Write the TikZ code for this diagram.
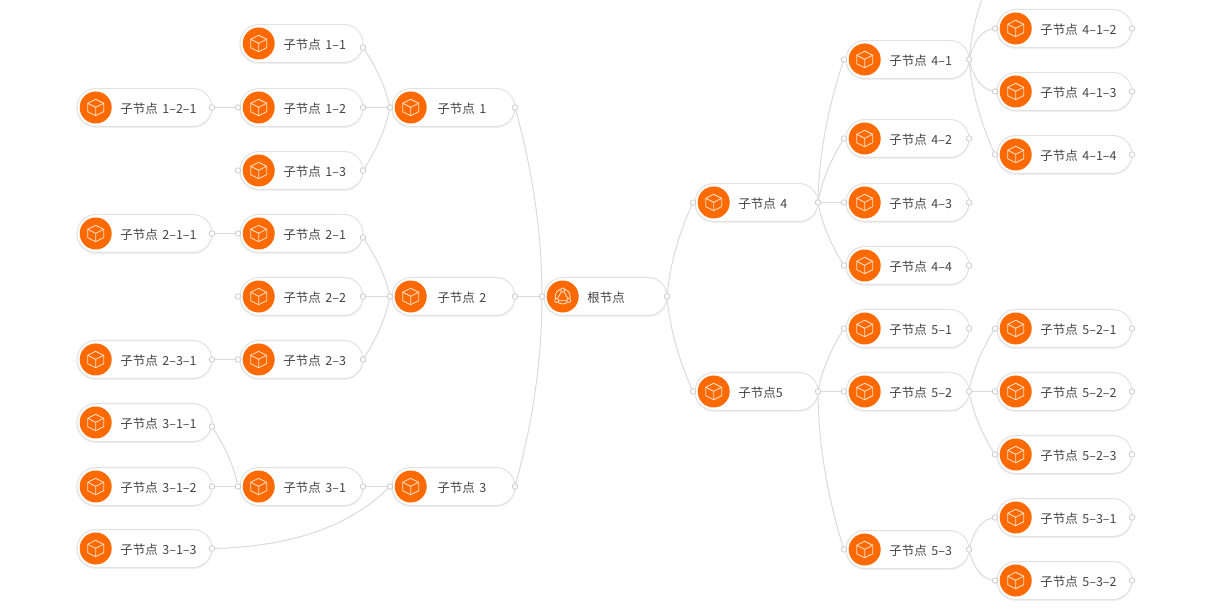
\documentclass[tikz,border=0pt]{standalone}
\usepackage{fontspec}
\setmainfont[WordSpace=1.6]{Noto Sans CJK SC}
\usetikzlibrary{calc,backgrounds}
\definecolor{edgegray}{HTML}{DADADA}
\definecolor{pillgray}{HTML}{E2E2E2}
\definecolor{portgray}{HTML}{CCCCCC}
\definecolor{iconorange}{HTML}{FF6A00}
\definecolor{icontint}{HTML}{FFE3CF}
\definecolor{labelgray}{HTML}{444444}
\tikzset{
  pill/.style={draw=pillgray,line width=1pt,fill=white,rounded corners=19pt,minimum height=38pt,inner sep=0pt,outer sep=0pt,anchor=west,
    preaction={draw=black!6,line width=1.2pt,transform canvas={yshift=-1pt}}},
  wide/.style={minimum width=135pt},
  mid/.style={minimum width=123pt},
  disc/.style={circle,fill=iconorange,minimum size=32pt,inner sep=0pt},
  portdot/.style={circle,draw=portgray,fill=white,line width=.8pt,minimum size=5.5pt,inner sep=0pt,outer sep=0pt},
  label/.style={anchor=west,inner sep=0pt,text=labelgray,font=\fontsize{12.5pt}{14pt}\selectfont},
  edgeline/.style={draw=edgegray,line width=1pt},
  iconline/.style={draw=icontint,line width=.8pt,line join=round},
  cube/.pic={
    \draw[iconline] (0,-8.2) -- (8,-4.2) -- (8,4.2) -- (0,8.2) -- (-8,4.2) -- (-8,-4.2) -- cycle;
    \draw[iconline] (-8,-4.2) -- (0,-.2) -- (8,-4.2) (0,-.2) -- (0,8.2);
  },
  orbit/.pic={
    \draw[iconline] (0,0) circle (7.5);
    \draw[iconline] (0,-7) -- (6.4,4.2) -- (-6.4,4.2) -- cycle;
    \draw[iconline,fill=iconorange] (0,-6.5) circle (2);
    \draw[iconline,fill=iconorange] (6,4) circle (2);
    \draw[iconline,fill=iconorange] (-6,4) circle (2);
  }
}
% \nd[port drop]{name}{left x}{y}{width style}{text}{icon}
\newcommand{\nd}[7][0]{%
  \node[pill,#5] (#2) at (#3,{#4-.5}) {};
  \node[disc] (#2-i) at ($(#2.west)+(18.7,0)$) {};
  \pic at (#2-i) {#7};
  \node[label] (#2-t) at ($(#2.west)+(43.2,.8)$) {#6};
  \node[portdot] (#2-r) at ($(#2.east)+(0,#1)$) {};
}
\newcommand{\lp}[1]{\node[portdot] (#1-l) at ($(#1.west)+(-2,0)$) {};}
% quadratic curve from child port to parent port; flat at the child when shallow, bowed when steep
\newcommand{\lnk}[2]{%
  \draw[edgeline] let \p1=(#1),\p2=(#2),
    \n1={abs(\y2-\y1)/max(abs(\x2-\x1),1)},
    \n2={min(1,0.65+0.055*\n1)},
    \n3={0.04+0.47*max(0,min(1,(\n1-1.2)/0.8))} in
    (\p1) .. controls ({\x1+0.667*\n2*(\x2-\x1)},{\y1+0.667*\n3*(\y2-\y1)})
    and ({\x2+0.667*(\n2-1)*(\x2-\x1)},{\y2+0.667*(\n3-1)*(\y2-\y1)}) .. (\p2);
}
\begin{document}
\begin{tikzpicture}[x=1pt,y=-1pt]
\useasboundingbox (0,0) rectangle (1224,612);
% left side
\nd{a121}{77}{108}{wide}{子节点 1–2–1}{cube}
\nd{a211}{77}{234}{wide}{子节点 2–1–1}{cube}
\nd{a231}{77}{360}{wide}{子节点 2–3–1}{cube}
\nd[4]{a311}{77}{423}{wide}{子节点 3–1–1}{cube}
\nd{a312}{77}{487}{wide}{子节点 3–1–2}{cube}
\nd{a313}{77}{549}{wide}{子节点 3–1–3}{cube}
\nd[4]{b11}{240}{44}{mid}{子节点 1–1}{cube}
\nd{b12}{240}{108}{mid}{子节点 1–2}{cube}\lp{b12}
\nd{b13}{240}{171}{mid}{子节点 1–3}{cube}\lp{b13}
\nd[4]{b21}{240}{234}{mid}{子节点 2–1}{cube}\lp{b21}
\nd{b22}{240}{297}{mid}{子节点 2–2}{cube}\lp{b22}
\nd{b23}{240}{360}{mid}{子节点 2–3}{cube}\lp{b23}
\nd{b31}{240}{487}{mid}{子节点 3–1}{cube}\lp{b31}
\nd{c1}{392}{108}{mid}{\hspace{2pt}子节点 1}{cube}\lp{c1}
\nd{c2}{392}{297}{mid}{\hspace{2pt}子节点 2}{cube}\lp{c2}
\nd{c3}{392}{487}{mid}{\hspace{2pt}子节点 3}{cube}\lp{c3}
% root
\nd{root}{544}{297}{mid}{根节点}{orbit}\lp{root}
% right side
\nd{d4}{695}{203}{mid}{子节点 4}{cube}\lp{d4}
\nd{d5}{695}{392}{mid}{子节点5}{cube}\lp{d5}
\nd{e41}{846}{60}{mid}{子节点 4–1}{cube}\lp{e41}
\nd{e42}{846}{139}{mid}{子节点 4–2}{cube}\lp{e42}
\nd{e43}{846}{203}{mid}{子节点 4–3}{cube}\lp{e43}
\nd{e44}{846}{266}{mid}{子节点 4–4}{cube}\lp{e44}
\nd{e51}{846}{329}{mid}{子节点 5–1}{cube}\lp{e51}
\nd{e52}{846}{392}{mid}{子节点 5–2}{cube}\lp{e52}
\nd{e53}{846}{550}{mid}{子节点 5–3}{cube}\lp{e53}
\nd{f412}{997}{29}{wide}{子节点 4–1–2}{cube}\lp{f412}
\nd{f413}{997}{92}{wide}{子节点 4–1–3}{cube}\lp{f413}
\nd{f414}{997}{155}{wide}{子节点 4–1–4}{cube}\lp{f414}
\nd{f521}{997}{329}{wide}{子节点 5–2–1}{cube}\lp{f521}
\nd{f522}{997}{392}{wide}{子节点 5–2–2}{cube}\lp{f522}
\nd{f523}{997}{455}{wide}{子节点 5–2–3}{cube}\lp{f523}
\nd{f531}{997}{518}{wide}{子节点 5–3–1}{cube}\lp{f531}
\nd{f532}{997}{581}{wide}{子节点 5–3–2}{cube}\lp{f532}
\coordinate (f411-l) at (995,-34);
\begin{scope}[on background layer]
\clip (0,0) rectangle (1224,612);
\lnk{a121-r}{b12-l}
\lnk{a211-r}{b21-l}
\lnk{a231-r}{b23-l}
\lnk{a311-r}{b31-l}
\lnk{a312-r}{b31-l}
\lnk{a313-r}{c3-l}
\lnk{b11-r}{c1-l}
\lnk{b12-r}{c1-l}
\lnk{b13-r}{c1-l}
\lnk{b21-r}{c2-l}
\lnk{b22-r}{c2-l}
\lnk{b23-r}{c2-l}
\lnk{b31-r}{c3-l}
\lnk{c1-r}{root-l}
\lnk{c2-r}{root-l}
\lnk{c3-r}{root-l}
\lnk{d4-l}{root-r}
\lnk{d5-l}{root-r}
\lnk{e41-l}{d4-r}
\lnk{e42-l}{d4-r}
\lnk{e43-l}{d4-r}
\lnk{e44-l}{d4-r}
\lnk{e51-l}{d5-r}
\lnk{e52-l}{d5-r}
\lnk{e53-l}{d5-r}
\lnk{f411-l}{e41-r}
\lnk{f412-l}{e41-r}
\lnk{f413-l}{e41-r}
\lnk{f414-l}{e41-r}
\lnk{f521-l}{e52-r}
\lnk{f522-l}{e52-r}
\lnk{f523-l}{e52-r}
\lnk{f531-l}{e53-r}
\lnk{f532-l}{e53-r}
\end{scope}
\end{tikzpicture}
\end{document}
